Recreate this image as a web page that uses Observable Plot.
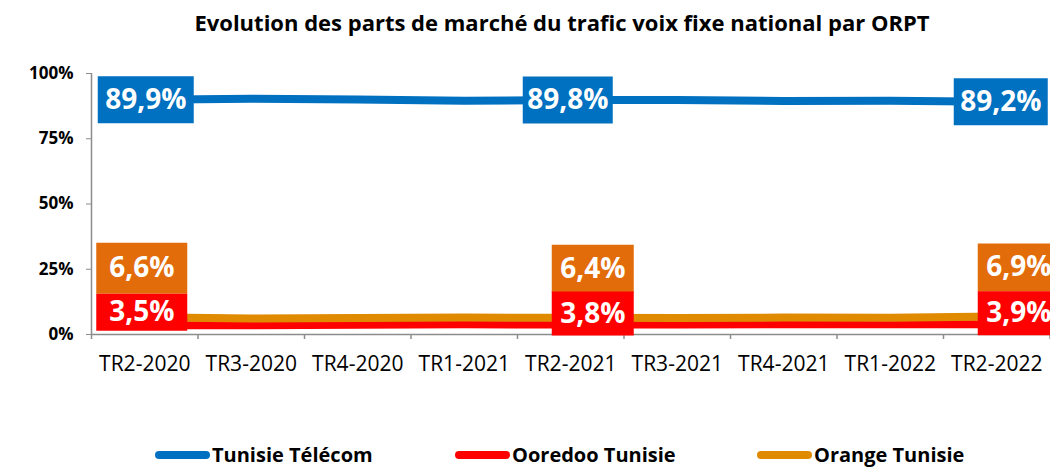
<!DOCTYPE html>
<html><head><meta charset="utf-8">
<script src="https://cdn.jsdelivr.net/npm/d3@7"></script>
<script src="https://cdn.jsdelivr.net/npm/@observablehq/plot@0.6"></script>
<style>
body{margin:0;background:#fff;overflow:hidden;font-family:"Open Sans",sans-serif;color:#000;}
#wrap{position:relative;width:1050px;height:468px;overflow:hidden;}
#title{height:44px;line-height:44px;font-weight:700;font-size:22px;text-align:center;padding-left:74px;white-space:nowrap;}
.leg{position:absolute;top:444px;height:22px;display:flex;align-items:center;font-weight:700;font-size:20px;line-height:22px;white-space:nowrap;}
.sw{width:55px;height:8px;border-radius:4px;margin-right:2px;}
</style></head>
<body><div id="wrap">
<div id="title">Evolution des parts de marché du trafic voix fixe national par ORPT</div>
<div id="chart"></div>
<div id="legend"></div>
</div>
<script>
const categories = ["TR2-2020","TR3-2020","TR4-2020","TR1-2021","TR2-2021","TR3-2021","TR4-2021","TR1-2022","TR2-2022"];
const tunisieTelecom = [0.899,0.903,0.900,0.896,0.898,0.898,0.895,0.896,0.892];
const ooredooTunisie = [0.035,0.035,0.037,0.039,0.038,0.038,0.039,0.039,0.039];
const orangeTunisie = [0.066,0.061,0.063,0.065,0.064,0.063,0.065,0.064,0.069];
const seriesNames = ["Tunisie Télécom","Ooredoo Tunisie","Orange Tunisie"];
const seriesColors = ["#0070C0","#FF0000","#E08A00"];
const labelColors = ["#0070C0","#FF0000","#E36C0A"];
const labelIndices = [0,4,8];
const yTicks = [0,0.25,0.5,0.75,1];

const seriesValues = [tunisieTelecom, ooredooTunisie, orangeTunisie];
const fmt = v => d3.format(".1f")(v*100).replace(".", ",") + "%";
const rows = (k) => seriesValues[k].map((v,i)=>({i, v, s: seriesNames[k]}));
const labelRows = (k, idx) => idx.map(i => ({i, v: seriesValues[k][i], t: fmt(seriesValues[k][i])}));

const rectSymbol = (w,h) => ({draw(ctx){ ctx.moveTo(-w/2,-h/2); ctx.lineTo(w/2,-h/2); ctx.lineTo(w/2,h/2); ctx.lineTo(-w/2,h/2); ctx.closePath(); }});
const gray = "#8c8c8c";

function boxLabel(k, idx, w, h, dx, dy){
  const d = labelRows(k, idx);
  return [
    Plot.dot(d, {x:"i", y:"v", symbol: rectSymbol(w,h), fill: labelColors[k], stroke:"none", dx, dy}),
    Plot.text(d, {x:"i", y:"v", text:"t", fill:"#fff", fontSize:28, fontWeight:700, dx, dy, textAnchor:"middle", lineAnchor:"middle"})
  ];
}

const plot = Plot.plot({
  width: 1050, height: 340,
  marginLeft: 91, marginRight: 0.5, marginTop: 29, marginBottom: 50,
  style: {fontFamily: '"Open Sans", sans-serif', background: "#fff", overflow: "hidden"},
  x: {type: "linear", domain: [-0.5, 8.5]},
  y: {domain: [0, 1]},
  marks: [
    Plot.ruleY([0], {stroke: gray, strokeWidth: 1.5}),
    Plot.ruleX([-0.5], {y1: 0, y2: 1, stroke: gray, strokeWidth: 1.5}),
    Plot.axisY({ticks: yTicks, tickFormat: d3.format(".0%"), tickSize: 5, tickPadding: 13, fontSize: 17, fontWeight: 700, stroke: gray, fill: "#000", label: null}),
    Plot.axisX({ticks: d3.range(categories.length), tickFormat: i => categories[i], tickSize: 0, tickPadding: 22, fontSize: 21, fill: "#000", label: null}),
    Plot.axisX({ticks: d3.range(-0.5, categories.length, 1), tickFormat: () => "", tickSize: 5, stroke: gray, strokeWidth: 1.5, label: null}),
    Plot.line(rows(0), {x:"i", y:"v", stroke: seriesColors[0], strokeWidth: 8}),
    Plot.line(rows(1), {x:"i", y:"v", stroke: seriesColors[1], strokeWidth: 8}),
    Plot.line(rows(2), {x:"i", y:"v", stroke: seriesColors[2], strokeWidth: 8}),
    ...boxLabel(0, [0], 96, 47, 1, 0),
    ...boxLabel(0, [4], 90, 47, -3, 0),
    ...boxLabel(0, [8], 94, 47, 4, 0),
    ...boxLabel(2, [0], 91, 51, -3, -49),
    ...boxLabel(1, [0], 91, 37, -3, -13),
    ...boxLabel(2, [4,8], 82, 48, 22, -49),
    ...boxLabel(1, [4,8], 82, 44, 22, -11)
  ]
});
document.getElementById("chart").appendChild(plot);

const legend = document.getElementById("legend");
const legLeft = [155, 455, 757];
seriesNames.forEach((n,k) => {
  const el = document.createElement("div");
  el.className = "leg";
  el.style.left = legLeft[k] + "px";
  el.innerHTML = `<div class="sw" style="background:${seriesColors[k]}"></div><span>${n}</span>`;
  legend.appendChild(el);
});
</script>
</body></html>
